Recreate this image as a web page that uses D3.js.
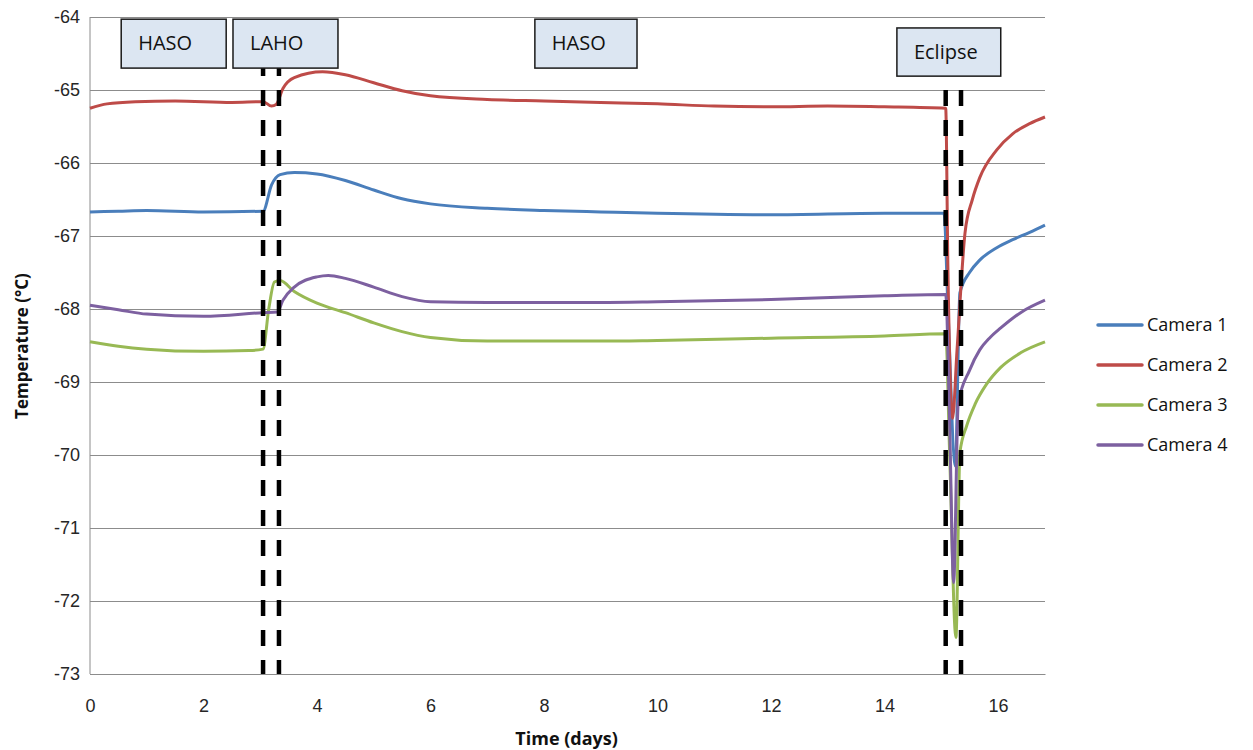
<!DOCTYPE html>
<html>
<head>
<meta charset="utf-8">
<script src="https://cdn.jsdelivr.net/npm/d3@7"></script>
<style>
  body { margin: 0; background: #fff; }
  svg { font-family: "Open Sans", "Noto Sans", sans-serif; }
</style>
</head>
<body>
<svg id="chart" width="1253" height="750"></svg>
<script>
// values: [day, temperature °C]
const camera1 = [[0,-66.67],[0.5,-66.66],[1,-66.65],[2,-66.67],[3.05,-66.66],[3.2,-66.3],[3.35,-66.16],[3.6,-66.13],[4,-66.15],[4.5,-66.24],[5,-66.37],[5.5,-66.49],[6,-66.56],[7,-66.62],[8,-66.65],[9,-66.67],[10,-66.69],[12,-66.71],[14,-66.69],[15.05,-66.69],[15.12,-68.0],[15.25,-70.15],[15.33,-67.78],[15.5,-67.5],[15.68,-67.33],[15.98,-67.16],[16.26,-67.05],[16.56,-66.95],[16.83,-66.85]];
const camera2 = [[0,-65.25],[0.3,-65.19],[0.8,-65.16],[1.5,-65.15],[2.5,-65.17],[3.05,-65.16],[3.2,-65.22],[3.28,-65.2],[3.4,-64.98],[3.6,-64.83],[4.1,-64.75],[4.5,-64.79],[5,-64.9],[5.5,-65.01],[6,-65.08],[7,-65.13],[8,-65.15],[9,-65.17],[10,-65.19],[11,-65.22],[12,-65.23],[13,-65.22],[14,-65.23],[15.08,-65.25],[15.12,-67.5],[15.2,-69.5],[15.28,-68.56],[15.42,-66.96],[15.55,-66.5],[15.68,-66.2],[15.98,-65.82],[16.26,-65.6],[16.56,-65.46],[16.83,-65.37]];
const camera3 = [[0,-68.45],[0.5,-68.51],[1,-68.55],[2,-68.58],[2.8,-68.57],[3.05,-68.55],[3.15,-68.0],[3.25,-67.63],[3.35,-67.61],[3.6,-67.76],[4,-67.92],[4.5,-68.05],[5,-68.19],[5.5,-68.31],[6,-68.39],[7,-68.44],[8,-68.44],[9,-68.44],[10,-68.43],[12,-68.4],[14,-68.37],[15.08,-68.34],[15.15,-70.0],[15.26,-72.5],[15.33,-69.97],[15.45,-69.6],[15.6,-69.3],[15.8,-69.03],[16.05,-68.8],[16.4,-68.6],[16.83,-68.45]];
const camera4 = [[0,-67.95],[0.5,-68.01],[1,-68.07],[2,-68.1],[3.05,-68.05],[3.3,-68.04],[3.4,-67.88],[3.6,-67.7],[4,-67.56],[4.2,-67.54],[4.5,-67.58],[5,-67.7],[5.5,-67.83],[6,-67.9],[7,-67.91],[9,-67.91],[10,-67.9],[12,-67.87],[14,-67.82],[15.08,-67.8],[15.15,-69.6],[15.22,-71.75],[15.3,-69.3],[15.5,-68.84],[15.68,-68.56],[15.85,-68.4],[16.05,-68.26],[16.4,-68.05],[16.83,-67.88]];

const seriesNames = ["Camera 1", "Camera 2", "Camera 3", "Camera 4"];
const seriesColors = ["#4a7ebb", "#be4b48", "#98b954", "#7d60a0"];
const xTicks = [0, 2, 4, 6, 8, 10, 12, 14, 16];
const yTicks = [-73, -72, -71, -70, -69, -68, -67, -66, -65, -64];

// phase annotations: label, start day, end day, top °C, bottom °C
const phases = [
  { label: "HASO", x0: 0.55, x1: 2.4, top: -64.03, bottom: -64.7 },
  { label: "LAHO", x0: 2.52, x1: 4.37, top: -64.03, bottom: -64.7 },
  { label: "HASO", x0: 7.84, x1: 9.64, top: -64.03, bottom: -64.7 },
  { label: "Eclipse", x0: 14.22, x1: 16.05, top: -64.15, bottom: -64.81 },
];
const boundaries = [3.05, 3.33, 15.08, 15.35];

const svg = d3.select("#chart");
const m = { left: 90, top: 17, right: 208, bottom: 76 };
const W = 1253 - m.left - m.right;
const H = 750 - m.top - m.bottom;

const x = d3.scaleLinear().domain([0, 16.83]).range([0, W]);
const y = d3.scaleLinear().domain([-73, -64]).range([H, 0]);

const g = svg.append("g").attr("transform", `translate(${m.left},${m.top})`);

// gridlines + y labels (plain hyphen minus like the original)
const yAxis = g.append("g")
  .call(d3.axisLeft(y).tickValues(yTicks).tickSize(-W).tickPadding(10).tickFormat((d) => String(d)));
yAxis.select(".domain").remove();
yAxis.selectAll("line").attr("stroke", "#8c8c8c").attr("stroke-width", 1);
yAxis.selectAll("text").attr("font-size", 18).attr("fill", "#262626");

const xAxis = g.append("g").attr("transform", `translate(0,${H})`)
  .call(d3.axisBottom(x).tickValues(xTicks).tickSize(0).tickPadding(25).tickFormat((d) => String(d)));
xAxis.select(".domain").attr("stroke", "#8c8c8c");
xAxis.selectAll("text").attr("font-size", 18).attr("fill", "#262626");

g.append("line").attr("x1", 0).attr("x2", 0).attr("y1", 0).attr("y2", H).attr("stroke", "#8c8c8c");

// series
const line = d3.line().x((d) => x(d[0])).y((d) => y(d[1])).curve(d3.curveMonotoneX);
[camera1, camera2, camera3, camera4].forEach((s, i) => {
  g.append("path").datum(s)
    .attr("fill", "none")
    .attr("stroke", seriesColors[i])
    .attr("stroke-width", 3)
    .attr("stroke-linejoin", "round")
    .attr("d", line);
});

// dashed phase boundaries
g.selectAll(".bound").data(boundaries).join("line")
  .attr("class", "bound")
  .attr("x1", (d) => x(d)).attr("x2", (d) => x(d))
  .attr("y1", 43).attr("y2", H)
  .attr("stroke", "#000")
  .attr("stroke-width", 4.5)
  .attr("stroke-dasharray", "16,14");

// phase boxes
const box = g.selectAll(".phase").data(phases).join("g").attr("class", "phase");
box.append("rect")
  .attr("x", (d) => x(d.x0)).attr("y", (d) => y(d.top))
  .attr("width", (d) => x(d.x1) - x(d.x0))
  .attr("height", (d) => y(d.bottom) - y(d.top))
  .attr("fill", "#dce6f2").attr("stroke", "#1a1a1a").attr("stroke-width", 1.5);
box.append("text")
  .attr("x", (d) => x(d.x0) + 17)
  .attr("y", (d) => y(d.top) + 31)
  .attr("font-size", 20).attr("fill", "#111")
  .text((d) => d.label);

// axis titles
svg.append("text")
  .attr("x", m.left + x(8.4)).attr("y", 745)
  .attr("text-anchor", "middle").attr("font-size", 18).attr("font-weight", "bold")
  .attr("fill", "#111").text("Time (days)");
svg.append("text")
  .attr("transform", "translate(28,346) rotate(-90)")
  .attr("text-anchor", "middle").attr("font-size", 17).attr("font-weight", "bold")
  .attr("fill", "#111").text("Temperature (°C)");

// legend
const leg = svg.append("g").attr("transform", "translate(1098,325)");
seriesNames.forEach((name, i) => {
  const row = leg.append("g").attr("transform", `translate(0,${i * 40})`);
  row.append("line").attr("x1", 0).attr("x2", 44).attr("y1", 0).attr("y2", 0)
    .attr("stroke", seriesColors[i]).attr("stroke-width", 3.5).attr("stroke-linecap", "round");
  row.append("text").attr("x", 49).attr("y", 0).attr("dy", "0.35em")
    .attr("font-size", 18).attr("fill", "#111").text(name);
});
</script>
</body>
</html>
